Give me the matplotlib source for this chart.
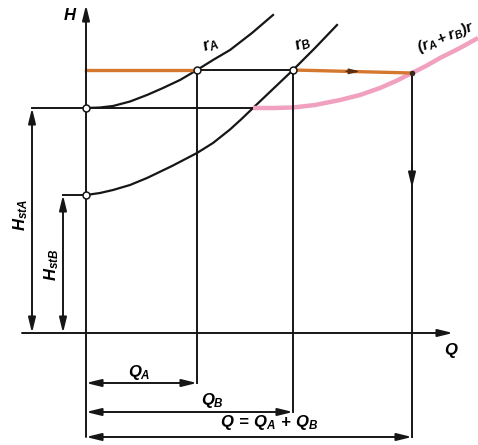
import matplotlib
matplotlib.use("Agg")
import matplotlib.pyplot as plt

plt.rcParams['mathtext.fontset'] = 'custom'
plt.rcParams['mathtext.it'] = 'Liberation Sans:italic:bold'
plt.rcParams['mathtext.rm'] = 'Liberation Sans:italic:bold'
plt.rcParams['mathtext.bf'] = 'Liberation Sans:italic:bold'
plt.rcParams['font.family'] = 'Liberation Sans'

# static heads of the two pipelines and the common operating head
H_stA = 22.5
H_stB = 13.8
H_op = 26.3
H_sum = 26.0

# system curves r_A, r_B and their sum (Q, H)
rA_Q = [0, 1.4, 2.7, 4.4, 6.1, 7.7, 9.4, 11.1, 12.7, 14.4, 16.6, 18.7]
rA_H = [22.5, 22.55, 22.7, 23.15, 23.8, 24.5, 25.3, 26.3, 27.3, 28.3, 30.0, 31.8]
rB_Q = [0, 1.4, 2.7, 4.4, 6.1, 8.6, 11.1, 12.7, 14.4, 15.5, 16.7, 17.7,
        18.7, 19.7, 20.7, 22.9, 25.1]
rB_H = [13.8, 14.0, 14.3, 14.8, 15.5, 16.7, 18.0, 19.0, 20.35, 21.35, 22.5, 23.45,
        24.4, 25.35, 26.3, 28.5, 30.8]
sum_Q = [16.7, 18.7, 20.7, 22.9, 25.4, 27.4, 29.4, 31.0, 32.6, 34.0, 35.4, 37.4, 39.2]
sum_H = [22.5, 22.5, 22.55, 22.8, 23.3, 23.8, 24.5, 25.2, 26.0, 26.7, 27.5, 28.5, 29.5]

Q_A = 11.1
Q_B = 20.7
Q_tot = 32.6

black = '#161616'
orange = '#d4772f'
pink = '#f2a0bf'

fig = plt.figure(figsize=(4.78, 4.45), dpi=100)
ax = fig.add_axes([0, 0, 1, 1])
ax.set_xlim(-8.6, 39.2)
ax.set_ylim(-11.2, 33.3)
ax.axis('off')

lw = 1.4


def arrow(x0, y0, x1, y1, style='-|>'):
    ax.annotate('', xy=(x1, y1), xytext=(x0, y0),
                arrowprops=dict(arrowstyle=style + ',head_length=0.9,head_width=0.22',
                                color=black, lw=lw, shrinkA=0, shrinkB=0,
                                mutation_scale=10))


# axes
arrow(0, -10.4, 0, 32.8)
arrow(-6.4, 0, 36.7, 0)
ax.text(-0.9, 31.8, r'$H$', fontsize=12, ha='right', va='center')
ax.text(36.5, -1.7, r'$Q$', fontsize=12, ha='center', va='center')

# static head levels and dimensions
ax.plot([-5.4, sum_Q[0]], [H_stA, H_stA], color=black, lw=lw)
ax.plot([-2.3, 0], [H_stB, H_stB], color=black, lw=lw)
arrow(-5.4, 0, -5.4, H_stA, '<|-|>')
arrow(-2.3, 0, -2.3, H_stB, '<|-|>')
ax.text(-6.5, 11.8, r'$H_{stA}$', fontsize=12, rotation=90, ha='center', va='center')
ax.text(-3.4, 6.8, r'$H_{stB}$', fontsize=12, rotation=90, ha='center', va='center')

# curves
ax.plot(rA_Q, rA_H, color=black, lw=1.6)
ax.plot(rB_Q, rB_H, color=black, lw=1.6)
ax.plot(sum_Q, sum_H, color=pink, lw=3.2, solid_capstyle='butt')

# operating head line
ax.plot([0, Q_A], [H_op, H_op], color=orange, lw=2.4)
ax.plot([Q_A, Q_B], [H_op, H_op], color=black, lw=lw)
ax.plot([Q_B, Q_tot], [H_op, H_sum], color=orange, lw=2.4)
ax.annotate('', xy=(27.4, 26.15), xytext=(26.0, 26.17),
            arrowprops=dict(arrowstyle='-|>,head_length=0.8,head_width=0.2',
                            color='#5a3010', lw=1, shrinkA=0, shrinkB=0,
                            mutation_scale=8))

# drop lines to the flow dimensions
ax.plot([Q_A, Q_A], [H_op, -5.0], color=black, lw=lw)
ax.plot([Q_B, Q_B], [H_op, -7.9], color=black, lw=lw)
ax.plot([Q_tot, Q_tot], [H_sum, -10.4], color=black, lw=lw)
arrow(Q_tot, 17.0, Q_tot, 14.5)

arrow(0, -5.0, Q_A, -5.0, '<|-|>')
arrow(0, -7.9, Q_B, -7.9, '<|-|>')
arrow(0, -10.4, Q_tot, -10.4, '<|-|>')

ax.text(5.3, -4.0, r'$Q_A$', fontsize=12, ha='center', va='center')
ax.text(12.6, -6.8, r'$Q_B$', fontsize=12, ha='center', va='center')
ax.text(13.4, -9.0, r'$Q\,=\,Q_A\,+\,Q_B$', fontsize=12, ha='left', va='center')

# points
for q, h in [(0, H_stA), (0, H_stB), (Q_A, H_op), (Q_B, H_op)]:
    ax.plot(q, h, 'o', ms=5, mfc='white', mec=black, mew=1.1, zorder=5)
ax.plot(Q_tot, H_sum, 'o', ms=3, color='#3a2a20', zorder=5)

# curve labels
ax.text(12.5, 28.8, r'$r_A$', fontsize=12, rotation=20, ha='center', va='center')
ax.text(21.7, 28.9, r'$r_B$', fontsize=12, rotation=20, ha='center', va='center')
ax.text(36.0, 29.6, r'$(r_A + r_B)r$', fontsize=11, rotation=22, ha='center', va='center')

fig.savefig('out.png', dpi=100)
